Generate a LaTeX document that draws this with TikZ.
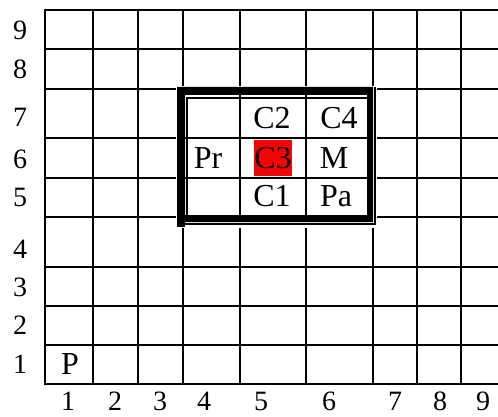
\documentclass[tikz,border=0pt]{standalone}
\usepackage{fontspec}
\setmainfont{Liberation Serif}
\begin{document}
\begin{tikzpicture}[x=1pt,y=-1pt,
  gridline/.style={line width=2pt},
  lab/.style={anchor=base,inner sep=0pt,font=\fontsize{28}{28}\selectfont},
  cell/.style={anchor=base,inner sep=0pt,font=\fontsize{32}{32}\selectfont}]
\useasboundingbox (0,0) rectangle (498,417);
% main grid
\foreach \x in {93,138,183,240,306,373,417,461} \draw[gridline] (\x,10) -- (\x,384);
\draw[gridline,line cap=rect] (498,10) -- (45,10) -- (45,384) -- (498,384);
\foreach \y in {49,89,138,178,217,267,306,345} \draw[gridline] (45,\y) -- (498,\y);
% framed block
\fill[white] (176,86) rectangle (377,228);
\draw[gridline] (240,95) -- (240,215);
\draw[gridline] (306,95) -- (306,215);
\draw[gridline] (185,138) -- (367,138);
\draw[gridline] (185,178) -- (367,178);
\fill[red] (254,140) rectangle (292,176);
\fill[black,even odd rule] (177,87) rectangle (373,222) (185,95) rectangle (367,215);
\fill[black] (177,222) rectangle (185,227);
\draw[gridline] (187,215) -- (187,98) -- (367,98);
\draw[gridline] (375,87) -- (375,224) -- (185,224);
% row labels
\node[lab] (r9) at (20,39.5) {9};
\node[lab] (r8) at (20,79) {8};
\node[lab] (r7) at (20,127) {7};
\node[lab] (r6) at (20,168.5) {6};
\node[lab] (r5) at (20,206.5) {5};
\node[lab] (r4) at (20,258) {4};
\node[lab] (r3) at (20,296) {3};
\node[lab] (r2) at (20,334.5) {2};
\node[lab] (r1) at (20,373.5) {1};
% column labels
\node[lab] (c1) at (68,410.5) {1};
\node[lab] (c2) at (115,410.5) {2};
\node[lab] (c3) at (160,410.5) {3};
\node[lab] (c4) at (204,410.5) {4};
\node[lab] (c5) at (261,410.5) {5};
\node[lab] (c6) at (329,410.5) {6};
\node[lab] (c7) at (395,410.5) {7};
\node[lab] (c8) at (440,410.5) {8};
\node[lab] (c9) at (483,410.5) {9};
% cell texts
\node[cell] (pr) at (208,168.5) {Pr};
\node[cell] (ctwo) at (272,128.5) {C2};
\node[cell] (cfour) at (339,128.5) {C4};
\node[cell] (cthree) at (273,168.5) {C3};
\node[cell] (m) at (334,168.5) {M};
\node[cell] (cone) at (272,206.5) {C1};
\node[cell] (pa) at (336,206.5) {Pa};
\node[cell] (p) at (70,374.5) {P};
\end{tikzpicture}
\end{document}
